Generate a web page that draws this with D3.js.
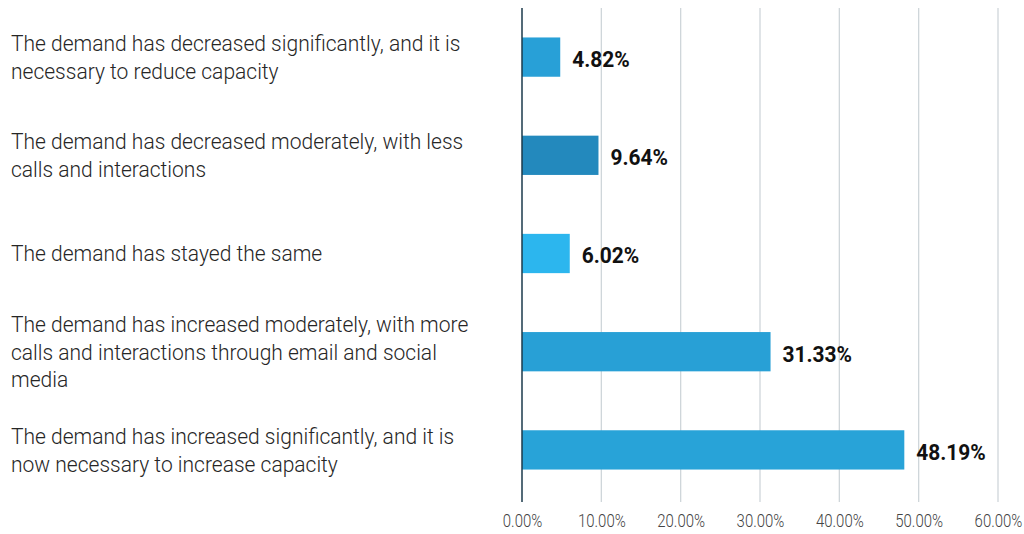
<!DOCTYPE html>
<html>
<head>
<meta charset="utf-8">
<script src="https://cdn.jsdelivr.net/npm/d3@7"></script>
<style>
  html, body { margin: 0; padding: 0; background: #fff; }
  svg { display: block; }
  text { font-family: Roboto, "Noto Sans", sans-serif; }
</style>
</head>
<body>
<div id="chart"></div>
<script>
// answer categories, top to bottom
const categories = [
    "The demand has decreased significantly, and it is necessary to reduce capacity",
    "The demand has decreased moderately, with less calls and interactions",
    "The demand has stayed the same",
    "The demand has increased moderately, with more calls and interactions through email and social media",
    "The demand has increased significantly, and it is now necessary to increase capacity"
];
// share of respondents, percent
const shares = [4.82, 9.64, 6.02, 31.33, 48.19];
const barColors = ["#28a0d7", "#2389bd", "#2cb6ee", "#28a0d6", "#28a3d8"];
const xTicks = [0, 10, 20, 30, 40, 50, 60];

const width = 1024, height = 534;
const margin = { top: 8, right: 26, bottom: 35, left: 522 };
const innerW = width - margin.left - margin.right;
const innerH = height - margin.top - margin.bottom;

// the reference uses a condensed face; squeeze Roboto to match
const squeeze = (sel, k) => sel.each(function () {
    const w = this.getComputedTextLength();
    d3.select(this).attr("textLength", w * k).attr("lengthAdjust", "spacingAndGlyphs");
});

const svg = d3.select("#chart").append("svg")
    .attr("width", width)
    .attr("height", height);

const g = svg.append("g").attr("transform", `translate(${margin.left},${margin.top})`);

const x = d3.scaleLinear().domain([0, 60]).range([0, innerW]);
const y = d3.scaleBand().domain(categories).range([0, innerH]).paddingInner(0.6).paddingOuter(0.3);

// grid
g.append("g")
    .selectAll("line")
    .data(xTicks.slice(1))
    .join("line")
    .attr("x1", d => x(d)).attr("x2", d => x(d))
    .attr("y1", 0).attr("y2", innerH + 3)
    .attr("stroke", "#cfd6da")
    .attr("stroke-width", 1.3);

// x axis labels
const xAxis = g.append("g")
    .attr("transform", `translate(0,${innerH + 3})`)
    .call(d3.axisBottom(x).tickValues(xTicks).tickFormat(d => d.toFixed(2) + "%").tickSize(0).tickPadding(12));
xAxis.select(".domain").remove();
xAxis.selectAll("text")
    .attr("font-size", 18)
    .attr("font-weight", 300)
    .attr("fill", "#444")
    .attr("font-family", "Roboto")
    .call(squeeze, 0.83);

// bars
g.append("g")
    .selectAll("rect")
    .data(shares)
    .join("rect")
    .attr("x", 0)
    .attr("y", (d, i) => y(categories[i]))
    .attr("width", d => x(d))
    .attr("height", y.bandwidth())
    .attr("fill", (d, i) => barColors[i]);

// value labels
g.append("g")
    .selectAll("text")
    .data(shares)
    .join("text")
    .attr("x", d => x(d) + 12)
    .attr("y", (d, i) => y(categories[i]) + y.bandwidth() / 2)
    .attr("dy", "0.45em")
    .attr("font-size", 22)
    .attr("font-weight", 700)
    .attr("fill", "#111")
    .text(d => d.toFixed(2) + "%")
    .call(squeeze, 0.95);

// baseline axis
g.append("line")
    .attr("x1", 0).attr("x2", 0)
    .attr("y1", 0).attr("y2", innerH + 3)
    .attr("stroke", "#1b3a4b")
    .attr("stroke-width", 1.5);

// category labels, wrapped
const labelSize = 22, condense = 0.955, lineH = 27.5, maxW = 466;
const labels = svg.append("g");
categories.forEach((c, i) => {
    const probe = labels.append("text").attr("font-size", labelSize).attr("font-weight", 300);
    const words = c.split(" ");
    const lines = [];
    let cur = [];
    words.forEach(w => {
        const trial = cur.concat(w).join(" ");
        probe.text(trial);
        if (cur.length && probe.node().getComputedTextLength() * condense > maxW) {
            lines.push(cur.join(" "));
            cur = [w];
        } else {
            cur.push(w);
        }
    });
    lines.push(cur.join(" "));
    probe.remove();
    const cy = margin.top + y(c) + y.bandwidth() / 2;
    lines.forEach((ln, j) => {
        labels.append("text")
            .attr("x", 11)
            .attr("y", cy + (j - (lines.length - 1) / 2) * lineH)
            .attr("dy", "0.36em")
            .attr("font-size", labelSize)
            .attr("font-weight", 300)
            .attr("fill", "#262626")
            .text(ln)
            .call(squeeze, condense);
    });
});
</script>
</body>
</html>
